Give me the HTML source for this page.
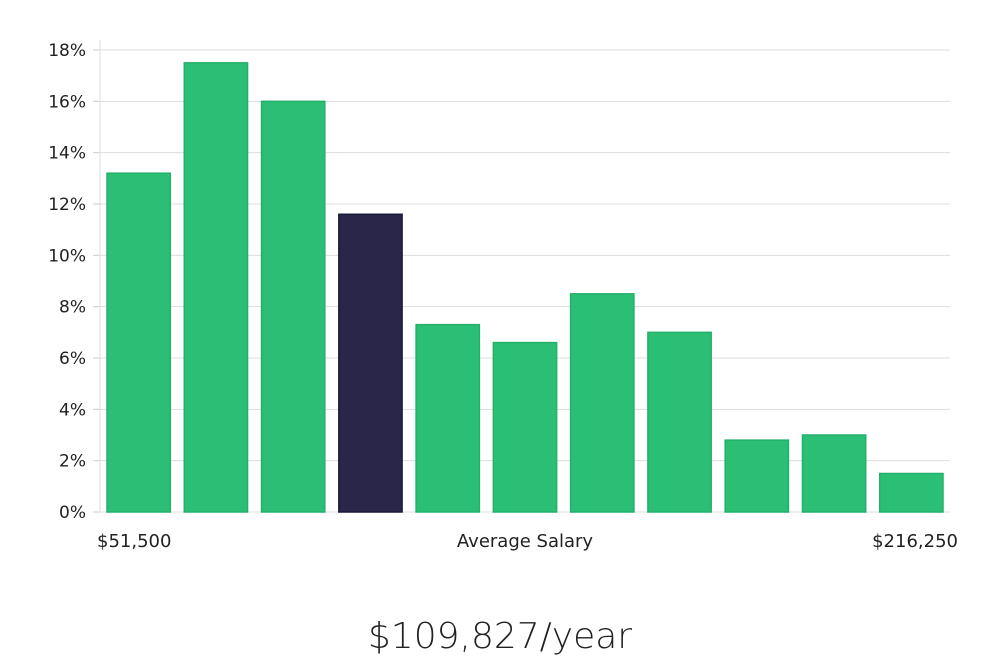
<!DOCTYPE html>
<html><head><meta charset="utf-8"><style>
body{margin:0;background:#fff;font-family:"DejaVu Sans","Liberation Sans",sans-serif;}
</style></head><body>
<svg id="chart" width="1000" height="660" xmlns="http://www.w3.org/2000/svg"></svg>
<script>
const categories=["b1","b2","b3","b4","b5","b6","b7","b8","b9","b10","b11"];
const values=[13.2,17.5,16.0,11.6,7.3,6.6,8.5,7.0,2.8,3.0,1.5];
const highlight=[false,false,false,true,false,false,false,false,false,false,false];
const yTicks=[0,2,4,6,8,10,12,14,16,18];
const xLabels=["$51,500","Average Salary","$216,250"];
const svg=document.getElementById('chart');
const NS="http://www.w3.org/2000/svg";
const x0=100,x1=950,y0=512,y18=50;
const y=v=>y0-(v/18)*(y0-y18);
const step=(x1-x0)/categories.length;
function mk(t,a,p){const e=document.createElementNS(NS,t);for(const k in a)e.setAttribute(k,a[k]);(p||svg).appendChild(e);return e;}
yTicks.forEach(t=>{
  const g=mk('line',{x1:x0,x2:x1,y1:y(t),y2:y(t),stroke:'#dddddd','stroke-width':1});
  
  
  const tk=mk('line',{x1:x0-7,x2:x0,y1:y(t),y2:y(t),stroke:'#cccccc','stroke-width':1});
  
  
  const tx=mk('text',{x:x0-14,y:y(t)+6,'text-anchor':'end','font-size':17,fill:'#222'});
  tx.textContent=t+'%';
  
  
});
const ax=mk('line',{x1:x0,x2:x0,y1:40,y2:y0,stroke:'#dddddd','stroke-width':1});


values.forEach((v,i)=>{
  const bx=x0+i*step+7;
  const r=mk('rect',{x:bx,y:y(v),width:step-14,height:y0-y(v),fill:highlight[i]?'#29264a':'#2bbf76',stroke:highlight[i]?'#1c1a3a':'#24b06b','stroke-width':1.5});
  
  
});
const lx=[97,525,958],la=['start','middle','end'];
xLabels.forEach((l,i)=>{
  const t=mk('text',{x:lx[i],y:547,'text-anchor':la[i],'font-size':18,fill:'#222'});
  t.textContent=l;
  
  
});
const s=mk('text',{x:500,y:648,'text-anchor':'middle','font-size':36,fill:'#222','font-weight':'300'});
s.textContent='$109,827/year';


</script>
</body></html>
